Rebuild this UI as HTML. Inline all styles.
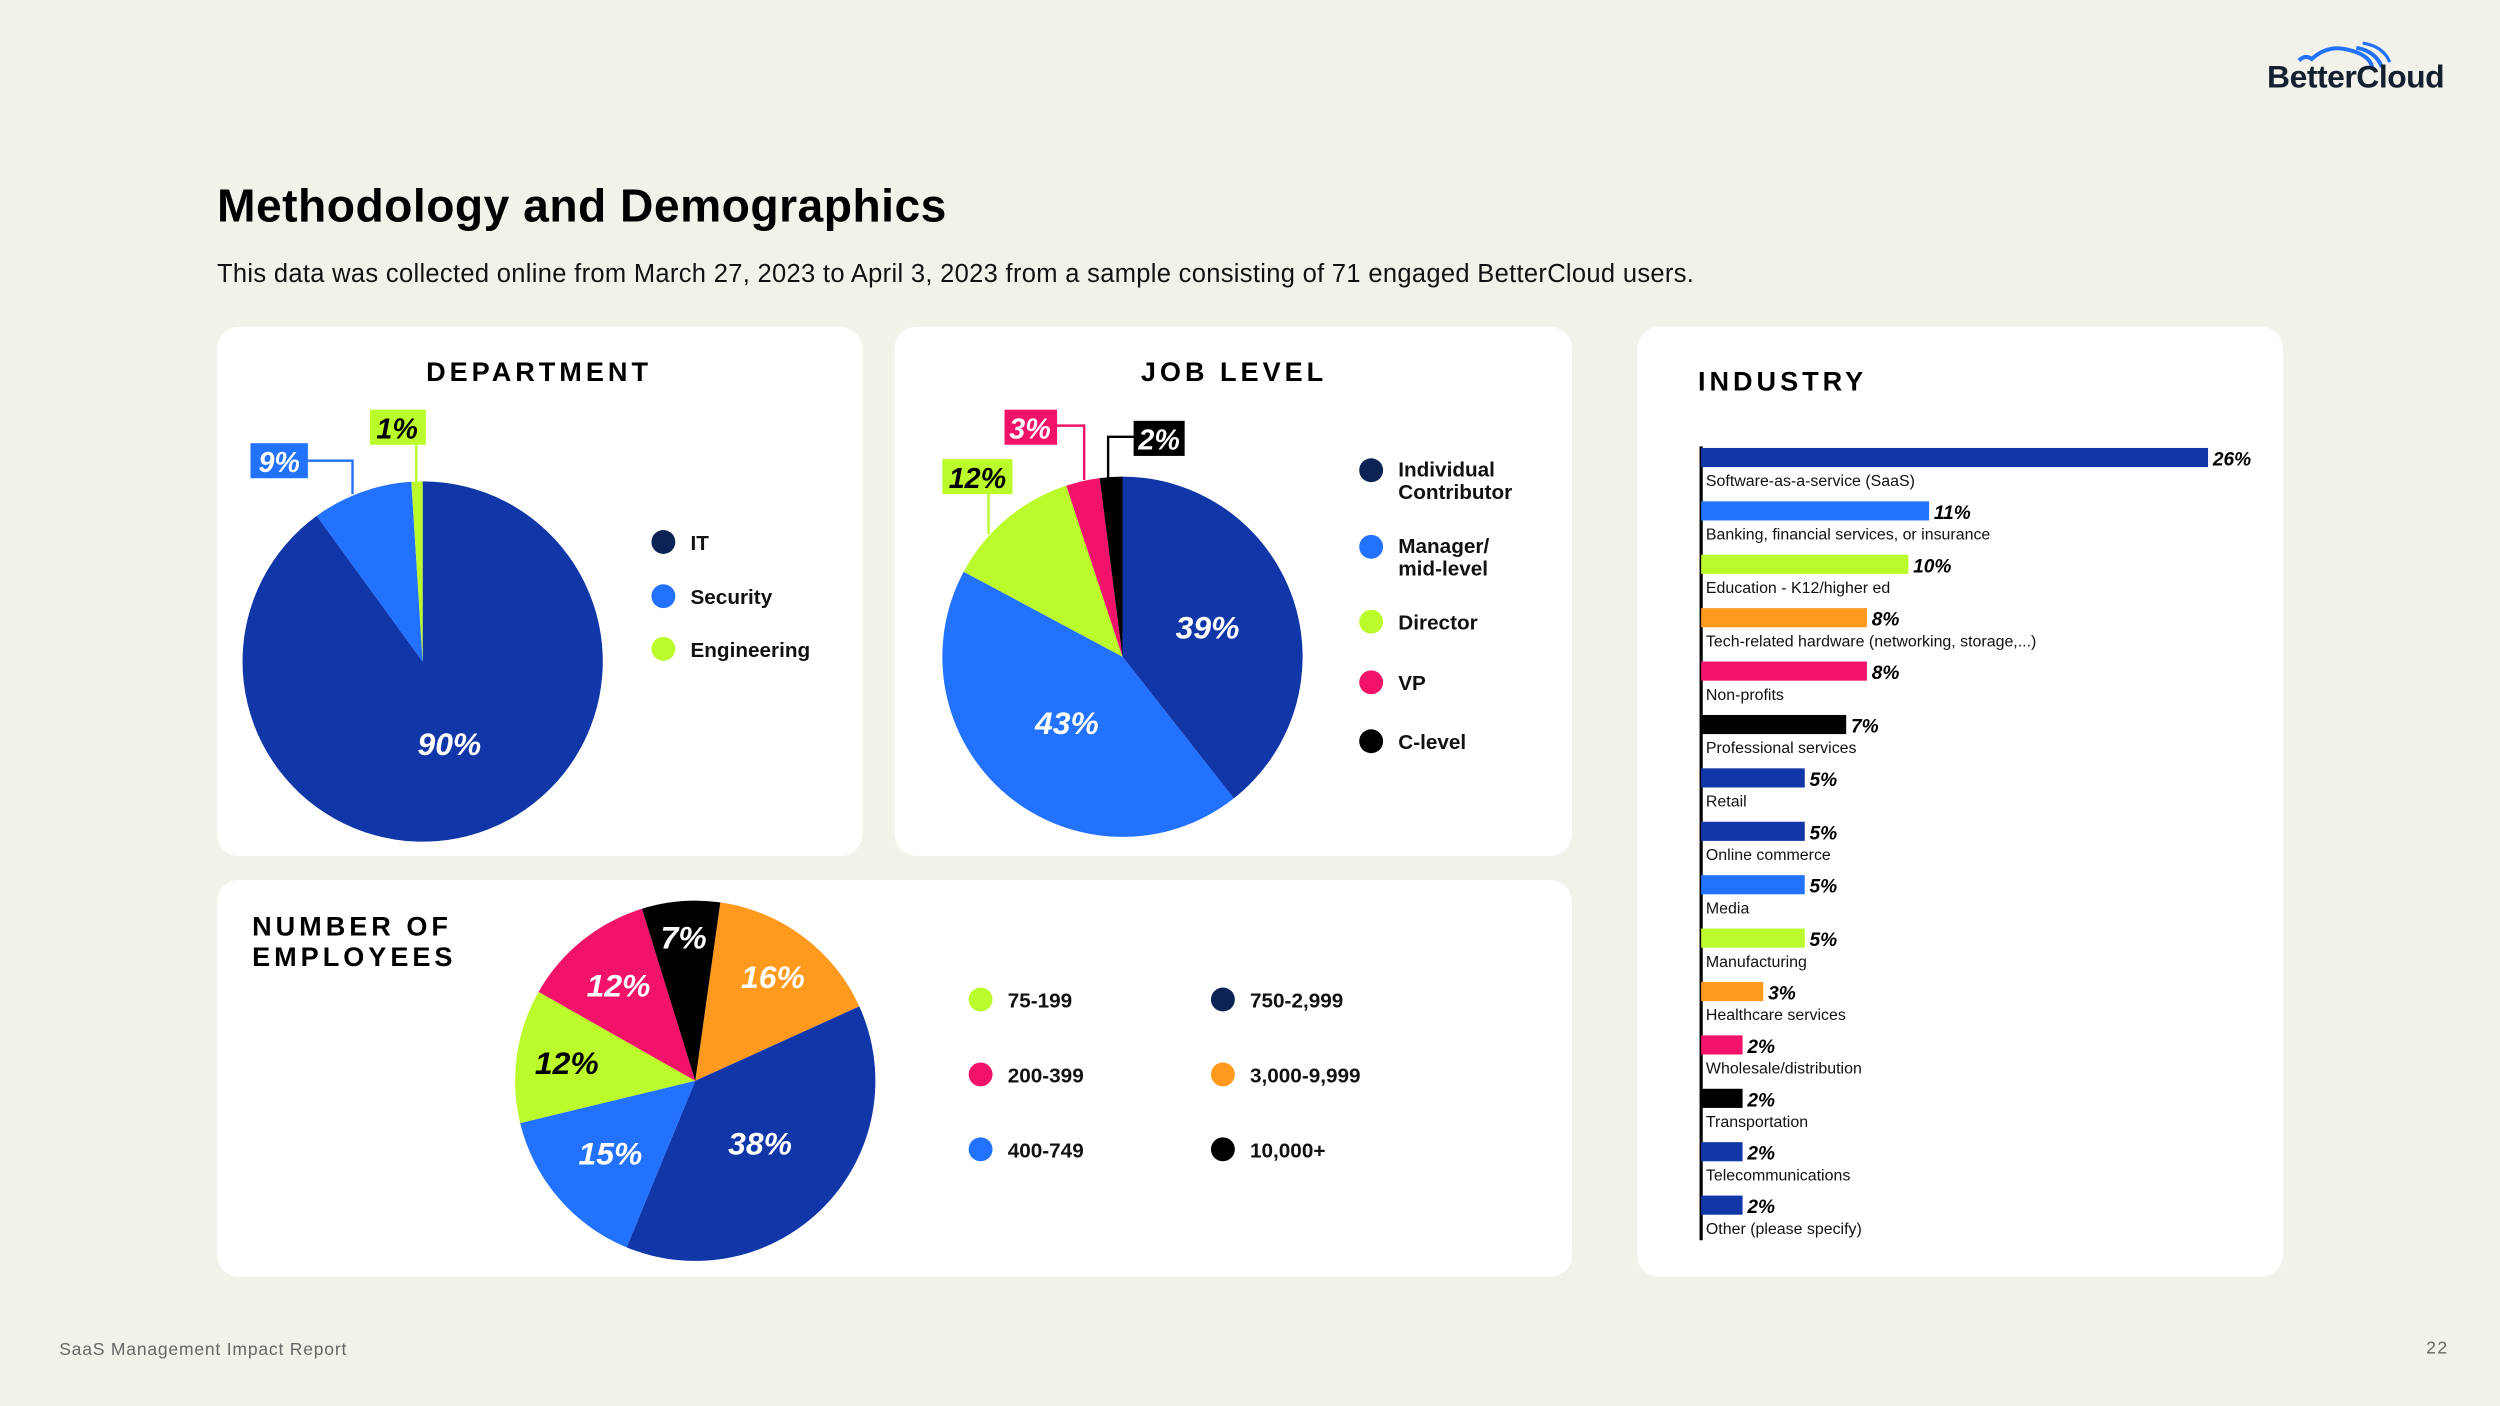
<!DOCTYPE html>
<html><head><meta charset="utf-8"><style>
html,body{margin:0;padding:0;background:#f3f2ea;}
svg{display:block;font-family:"Liberation Sans",sans-serif;}
</style></head><body>
<svg id="s" width="2500" height="1406" viewBox="0 0 1568 882" xmlns="http://www.w3.org/2000/svg">
<rect width="1568" height="882" fill="#f3f2ea"/>
<g>
<path d="M1442 38 q4-4 8 -1 q10-9 22-6 q14 3 16 11" fill="none" stroke="#2272ff" stroke-width="2.5"/>
<path d="M1478 30 q12 2 16 12" fill="none" stroke="#2272ff" stroke-width="2.5"/>
<path d="M1482 27 q13 2 17 12" fill="none" stroke="#2272ff" stroke-width="2"/>
<text x="1422" y="55" font-size="20" font-weight="bold" fill="#14202f" letter-spacing="-0.3">BetterCloud</text>
</g>
<text x="136" y="139" font-size="29" font-weight="900" fill="#000" letter-spacing="0.3">Methodology and Demographics</text>
<text x="136" y="177" font-size="16" fill="#111" letter-spacing="0.2">This data was collected online from March 27, 2023 to April 3, 2023 from a sample consisting of 71 engaged BetterCloud users.</text>
<rect x="136" y="205" width="405" height="332" rx="14" fill="#fff"/>
<rect x="561" y="205" width="425" height="332" rx="14" fill="#fff"/>
<rect x="136" y="552" width="850" height="249" rx="14" fill="#fff"/>
<rect x="1027" y="205" width="405" height="596" rx="14" fill="#fff"/>
<text x="338" y="239" text-anchor="middle" font-size="17" font-weight="900" letter-spacing="2.5">DEPARTMENT</text>
<text x="774" y="239" text-anchor="middle" font-size="17" font-weight="900" letter-spacing="2.5">JOB LEVEL</text>
<text x="158" y="587" font-size="17" font-weight="900" letter-spacing="2.5"><tspan x="158">NUMBER OF</tspan><tspan x="158" dy="19">EMPLOYEES</tspan></text>
<text x="1065" y="245" font-size="17" font-weight="900" letter-spacing="2.5">INDUSTRY</text>
<g id="dept"></g>
<g id="job"></g>
<g id="emp"></g>
<g id="ind"></g>
<g id="leg"></g>
<g>
<path d="M193 289 H221 V310" fill="none" stroke="#2272ff" stroke-width="1.5"/>
<rect x="157" y="278" width="36" height="22" fill="#2272ff"/>
<text x="175" y="296" text-anchor="middle" font-size="18" font-weight="900" font-style="italic" fill="#fff">9%</text>
<path d="M261 278 V303" fill="none" stroke="#bbfb2b" stroke-width="1.5"/>
<rect x="232" y="257" width="35" height="22" fill="#bbfb2b"/>
<text x="249" y="275" text-anchor="middle" font-size="18" font-weight="900" font-style="italic" fill="#000">1%</text>
<path d="M620 309 V335" fill="none" stroke="#bbfb2b" stroke-width="1.5"/>
<rect x="591" y="288" width="44" height="22" fill="#bbfb2b"/>
<text x="613" y="306" text-anchor="middle" font-size="18" font-weight="900" font-style="italic" fill="#000">12%</text>
<path d="M662 267 H680 V301" fill="none" stroke="#f2126a" stroke-width="1.5"/>
<rect x="630" y="257" width="33" height="22" fill="#f2126a"/>
<text x="646" y="275" text-anchor="middle" font-size="18" font-weight="900" font-style="italic" fill="#fff">3%</text>
<path d="M712 274 H695 V300" fill="none" stroke="#000" stroke-width="1.5"/>
<rect x="711" y="264" width="32" height="22" fill="#000"/>
<text x="727" y="282" text-anchor="middle" font-size="18" font-weight="900" font-style="italic" fill="#fff">2%</text>
</g>
<text x="37" y="850" font-size="11" fill="#666" letter-spacing="0.5">SaaS Management Impact Report</text>
<text x="1536" y="849" text-anchor="end" font-size="11" fill="#666" letter-spacing="1">22</text>
</svg>
<script>
const NS="http://www.w3.org/2000/svg";
const deptLabels=["IT","Security","Engineering"];
const deptValues=[90,9,1];
const deptColors=["#1036a8","#2272ff","#bbfb2b"];
const jobLabels=["Individual Contributor","Manager/ mid-level","Director","VP","C-level"];
const jobValues=[39,43,12,3,2];
const jobColors=["#1036a8","#2272ff","#bbfb2b","#f2126a","#000000"];
const empLabels=["3,000-9,999","750-2,999","400-749","75-199","200-399","10,000+"];
const empValues=[16,38,15,12,12,7];
const empColors=["#ff9a1e","#1036a8","#2272ff","#bbfb2b","#f2126a","#000000"];
const indLabels=["Software-as-a-service (SaaS)","Banking, financial services, or insurance","Education - K12/higher ed","Tech-related hardware (networking, storage,...)","Non-profits","Professional services","Retail","Online commerce","Media","Manufacturing","Healthcare services","Wholesale/distribution","Transportation","Telecommunications","Other (please specify)"];
const indValues=[26,11,10,8,8,7,5,5,5,5,3,2,2,2,2];
const indColors=["#1036a8","#2272ff","#bbfb2b","#ff9a1e","#f2126a","#000000","#1036a8","#1036a8","#2272ff","#bbfb2b","#ff9a1e","#f2126a","#000000","#1036a8","#1036a8"];

function mk(tag,attrs,parent){const e=document.createElementNS(NS,tag);for(const k in attrs)e.setAttribute(k,attrs[k]);parent.appendChild(e);return e;}
function pie(g,vals,cols,cx,cy,r,startDeg,showInside,lr,name){
  const total=vals.reduce((a,b)=>a+b,0);let a0=startDeg*Math.PI/180;
  vals.forEach((v,i)=>{
    const a1=a0+v/total*2*Math.PI;
    const x0=cx+r*Math.sin(a0),y0=cy-r*Math.cos(a0),x1=cx+r*Math.sin(a1),y1=cy-r*Math.cos(a1);
    const p=mk("path",{d:`M${cx} ${cy} L${x0} ${y0} A${r} ${r} 0 ${a1-a0>Math.PI?1:0} 1 ${x1} ${y1} Z`,fill:cols[i]},g);
    
    
    if(showInside[i]){
      const am=(a0+a1)/2,rr=r*lr[i];
      const t=mk("text",{x:cx+rr*Math.sin(am),y:cy-rr*Math.cos(am)+7,"text-anchor":"middle","font-size":"20","font-weight":"900","font-style":"italic",fill:cols[i]==="#bbfb2b"?"#000":"#fff"},g);
      t.textContent=v+"%";
      
      
    }
    a0=a1;
  });
}
pie(document.getElementById("dept"),deptValues,deptColors,265,415,113,0,[1,0,0],[0.48],"department");
pie(document.getElementById("job"),jobValues,jobColors,704,412,113,0,[1,1,0,0,0],[0.5,0.48],"job-level");
pie(document.getElementById("emp"),empValues,empColors,436,678,113,8,[1,1,1,1,1,1],[0.72,0.5,0.62,0.72,0.68,0.8],"employees");

const leg=document.getElementById("leg");
const navy="#0b2455";
function legend(labels,cols,positions,name){
  labels.forEach((l,i)=>{
    const [x,y]=positions[i];
    const c=mk("circle",{cx:x,cy:y,r:7.5,fill:cols[i]==="#1036a8"?navy:cols[i]},leg);
    
    
    const t=mk("text",{x:x+17,y:y+5,"font-size":"13","font-weight":"bold",fill:"#111"},leg);
    const parts=l.split(" ");
    if(name==="job-level"&&parts.length>1){
      t.setAttribute("y",y+4);
      parts.forEach((p,j)=>{const ts=mk("tspan",{x:x+17,dy:j?14:0},t);ts.textContent=p;});
    } else t.textContent=l;
    
    
  });
}
legend(deptLabels,deptColors,[[416,340],[416,374],[416,407]],"department");
legend(jobLabels,jobColors,[[860,295],[860,343],[860,390],[860,428],[860,465]],"job-level");
legend(empLabels,empColors,[[767,674],[767,627],[615,721],[615,627],[615,674],[767,721]],"employees");

const ind=document.getElementById("ind");
const x0=1067,scale=13,rowTop=281,rowGap=33.5,bh=12;
const ax=mk("line",{x1:x0,y1:rowTop-1,x2:x0,y2:778,stroke:"#000","stroke-width":2},ind);


indValues.forEach((v,i)=>{
  const y=rowTop+i*rowGap;const w=Math.min(v*scale,318);
  const b=mk("rect",{x:x0,y:y,width:w,height:bh,fill:indColors[i]},ind);
  
  
  const vt=mk("text",{x:x0+w+3,y:y+11,"font-size":"12","font-weight":"900","font-style":"italic",fill:"#000"},ind);
  vt.textContent=v+"%";
  
  
  const lt=mk("text",{x:x0+3,y:y+24,"font-size":"10",fill:"#111"},ind);
  lt.textContent=indLabels[i];
  
  
});
</script>
</body></html>
